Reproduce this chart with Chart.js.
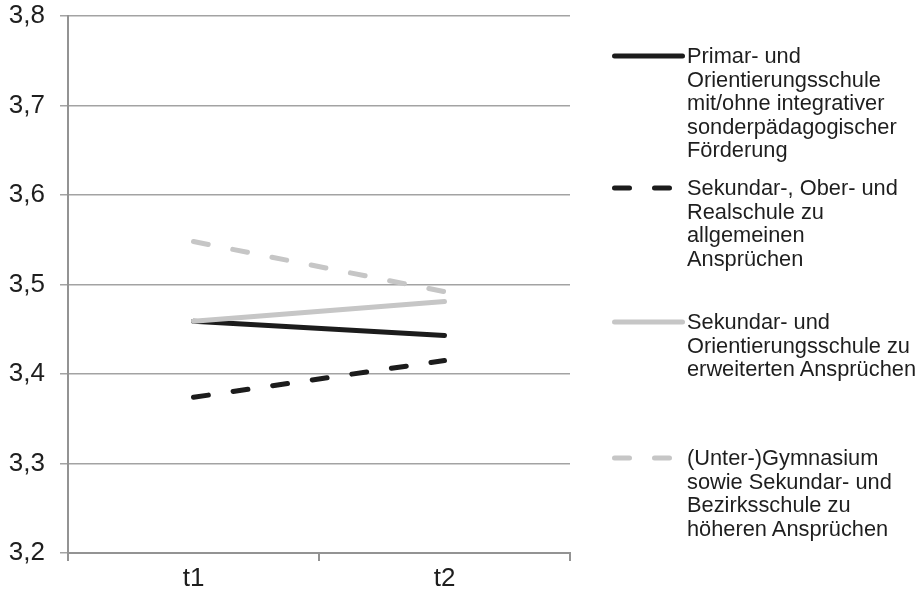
<!DOCTYPE html>
<html>
<head>
<meta charset="utf-8">
<script src="https://cdn.jsdelivr.net/npm/chart.js@4/dist/chart.umd.min.js"></script>
<style>
  html, body { margin: 0; padding: 0; background: #fff; }
  #wrap { position: relative; width: 918px; height: 600px; }
  #chart { position: absolute; left: 0; top: 0; }
  #legend { position: absolute; left: 0; top: 0; width: 918px; height: 600px; pointer-events: none;
            font-family: "Liberation Sans", Arial, sans-serif; font-size: 21.8px; line-height: 23.5px; color: #1e1e1e; }
  .item { position: absolute; left: 610px; }
  .item svg { position: absolute; left: 0; }
  .item .txt { position: absolute; left: 77px; white-space: nowrap; }
</style>
</head>
<body>
<div id="wrap">
  <canvas id="chart" width="918" height="600"></canvas>
  <div id="legend"></div>
</div>
<script>
// Messzeitpunkte
const categories = ['t1', 't2'];

// Mittelwerte je Schultyp
const primarOrientierung   = [3.459, 3.443];
const sekOberReal          = [3.374, 3.415];
const sekOrientierungErw   = [3.459, 3.481];
const gymnasiumBezirk      = [3.548, 3.492];

// Legendentexte, zeilenweise umbrochen
const seriesNames = [
  ['Primar- und', 'Orientierungsschule', 'mit/ohne integrativer', 'sonderpädagogischer', 'Förderung'],
  ['Sekundar-, Ober- und', 'Realschule zu', 'allgemeinen', 'Ansprüchen'],
  ['Sekundar- und', 'Orientierungsschule zu', 'erweiterten Ansprüchen'],
  ['(Unter-)Gymnasium', 'sowie Sekundar- und', 'Bezirksschule zu', 'höheren Ansprüchen']
];

// Achsenbereich der y-Achse
const yMin = 3.2, yMax = 3.8, yStep = 0.1;

const BLACK = '#1c1c1c';
const GREY = '#c6c6c6';
const DASH = [15, 25];
const GRID = '#a3a3a3';
const AXIS = '#939393';
const FONT = '"Liberation Sans", Arial, sans-serif';

function lineDataset(label, data, color, dashed, order) {
  return {
    label, data,
    borderColor: color,
    backgroundColor: color,
    borderWidth: 5,
    borderDash: dashed ? DASH : [],
    borderCapStyle: 'round',
    pointRadius: 0,
    pointHoverRadius: 0,
    tension: 0,
    fill: false,
    order
  };
}

// HTML-Legende rechts neben dem Diagramm
const legendTops = [44, 176, 310, 446];
const htmlLegend = {
  id: 'htmlLegend',
  afterUpdate(chart) {
    const box = document.getElementById('legend');
    box.innerHTML = '';
    chart.data.datasets.forEach((ds, i) => {
      const item = document.createElement('div');
      item.className = 'item';
      item.style.top = legendTops[i] + 'px';
      const dash = ds.borderDash.length ? 'stroke-dasharray="' + ds.borderDash.join(' ') + '"' : '';
      item.innerHTML =
        '<svg width="80" height="24" style="top:0px"><line x1="4.5" y1="12" x2="72.5" y2="12" stroke="' +
        ds.borderColor + '" stroke-width="5" stroke-linecap="round" ' + dash + '/></svg>' +
        '<div class="txt">' + seriesNames[i].join('<br>') + '</div>';
      box.appendChild(item);
    });
  }
};

const chart = new Chart(document.getElementById('chart'), {
  type: 'line',
  data: {
    labels: categories,
    datasets: [
      lineDataset(seriesNames[0].join(' '), primarOrientierung, BLACK, false, 2),
      lineDataset(seriesNames[1].join(' '), sekOberReal, BLACK, true, 3),
      lineDataset(seriesNames[2].join(' '), sekOrientierungErw, GREY, false, 1),
      lineDataset(seriesNames[3].join(' '), gymnasiumBezirk, GREY, true, 4)
    ]
  },
  options: {
    responsive: false,
    animation: false,
    layout: { padding: { left: 0, top: 16, right: 348, bottom: 0 } },
    plugins: {
      legend: { display: false },
      tooltip: { enabled: false }
    },
    scales: {
      x: {
        offset: true,
        grid: {
          offset: true,
          drawOnChartArea: false,
          drawTicks: true,
          tickLength: 8,
          color: AXIS,
          lineWidth: 2
        },
        border: { display: true, color: AXIS, width: 2 },
        ticks: {
          color: '#1e1e1e',
          padding: 2,
          font: { family: FONT, size: 26 }
        },
        afterFit(scale) {
          scale.height = 47;
          scale.paddingLeft = 0;
          scale.paddingRight = 0;
        }
      },
      y: {
        min: yMin,
        max: yMax,
        grid: {
          color: GRID,
          lineWidth: 1.5,
          tickLength: 8
        },
        border: { display: true, color: AXIS, width: 2 },
        ticks: {
          stepSize: yStep,
          color: '#1e1e1e',
          padding: 15,
          font: { family: FONT, size: 26 },
          callback: v => v.toFixed(1).replace('.', ',')
        },
        afterFit(scale) {
          scale.width = 68;
          scale.paddingTop = 0;
          scale.paddingBottom = 0;
        }
      }
    }
  },
  plugins: [htmlLegend]
});
</script>
</body>
</html>
